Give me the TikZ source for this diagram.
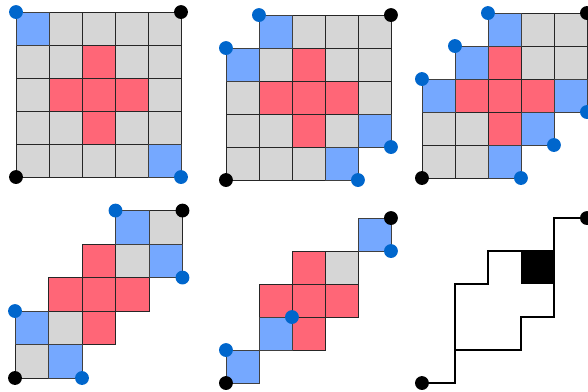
\documentclass[tikz,border=0pt]{standalone}
\usepackage{xcolor}
\definecolor{cellgray}{HTML}{D6D6D6}
\definecolor{cellred}{HTML}{FF6677}
\definecolor{cellblue}{HTML}{75A8FF}
\definecolor{dotblue}{HTML}{0066CC}
\tikzset{
  graycell/.style={fill=cellgray, draw=black!85, line width=0.6pt},
  redcell/.style={fill=cellred, draw=black!85, line width=0.6pt},
  bluecell/.style={fill=cellblue, draw=black!75, line width=0.6pt},
  bluedot/.style={circle, fill=dotblue, minimum size=4.2mm, inner sep=0pt},
  blackdot/.style={circle, fill=black, minimum size=4.2mm, inner sep=0pt},
  outline/.style={draw=black, line width=1.1pt}
}

\begin{document}
\begin{tikzpicture}
\useasboundingbox (0,0) rectangle (17.82,11.85);

% full grid
\begin{scope}[shift={(0.485,6.485)}]
\foreach \c in {0,...,4} \foreach \r in {0,...,4} \draw[graycell] (\c,\r) rectangle ++(1,1);
\foreach \c/\r in {2/3,1/2,2/2,3/2,2/1} \draw[redcell] (\c,\r) rectangle ++(1,1);
\foreach \c/\r in {0/4,4/0} \draw[bluecell] (\c,\r) rectangle ++(1,1);
\node[bluedot] (a1) at (0,5) {};
\node[blackdot] (a2) at (5,5) {};
\node[blackdot] (a3) at (0,0) {};
\node[bluedot] (a4) at (5,0) {};
\end{scope}

% corners removed
\begin{scope}[shift={(6.848,6.394)}]
\foreach \c/\r in {2/4,3/4,4/4,1/3,3/3,4/3,0/2,4/2,0/1,1/1,3/1,0/0,1/0,2/0}
  \draw[graycell] (\c,\r) rectangle ++(1,1);
\foreach \c/\r in {2/3,1/2,2/2,3/2,2/1} \draw[redcell] (\c,\r) rectangle ++(1,1);
\foreach \c/\r in {1/4,0/3,4/1,3/0} \draw[bluecell] (\c,\r) rectangle ++(1,1);
\node[bluedot] (b1) at (1,5) {};
\node[bluedot] (b2) at (0,4) {};
\node[blackdot] (b3) at (5,5) {};
\node[blackdot] (b4) at (0,0) {};
\node[bluedot] (b5) at (5,1) {};
\node[bluedot] (b6) at (4,0) {};
\end{scope}

% staircase
\begin{scope}[shift={(12.788,6.455)}]
\foreach \c/\r in {3/4,4/4,3/3,4/3,0/1,1/1,0/0,1/0}
  \draw[graycell] (\c,\r) rectangle ++(1,1);
\foreach \c/\r in {2/3,1/2,2/2,3/2,2/1} \draw[redcell] (\c,\r) rectangle ++(1,1);
\foreach \c/\r in {2/4,1/3,0/2,4/2,3/1,2/0} \draw[bluecell] (\c,\r) rectangle ++(1,1);
\node[bluedot] (c1) at (2,5) {};
\node[bluedot] (c2) at (1,4) {};
\node[bluedot] (c3) at (0,3) {};
\node[blackdot] (c4) at (5,5) {};
\node[bluedot] (c5) at (5,2) {};
\node[bluedot] (c6) at (4,1) {};
\node[bluedot] (c7) at (3,0) {};
\node[blackdot] (c8) at (0,0) {};
\end{scope}

% diagonal band
\begin{scope}[shift={(0.455,0.394)}, x=1.015cm, y=1.015cm]
\foreach \c/\r in {4/4,3/3,1/1,0/0} \draw[graycell] (\c,\r) rectangle ++(1,1);
\foreach \c/\r in {2/3,1/2,2/2,3/2,2/1} \draw[redcell] (\c,\r) rectangle ++(1,1);
\foreach \c/\r in {3/4,4/3,0/1,1/0} \draw[bluecell] (\c,\r) rectangle ++(1,1);
\node[bluedot] (d1) at (3,5) {};
\node[blackdot] (d2) at (5,5) {};
\node[bluedot] (d3) at (5,3) {};
\node[bluedot] (d4) at (0,2) {};
\node[blackdot] (d5) at (0,0) {};
\node[bluedot] (d6) at (2,0) {};
\end{scope}

% thinner band
\begin{scope}[shift={(6.848,0.242)}]
\draw[graycell] (3,3) rectangle ++(1,1);
\foreach \c/\r in {2/3,1/2,2/2,3/2,2/1} \draw[redcell] (\c,\r) rectangle ++(1,1);
\foreach \c/\r in {4/4,1/1,0/0} \draw[bluecell] (\c,\r) rectangle ++(1,1);
\node[blackdot] (e1) at (5,5) {};
\node[bluedot] (e2) at (5,4) {};
\node[bluedot] (e3) at (2,2) {};
\node[bluedot] (e4) at (0,1) {};
\node[blackdot] (e5) at (0,0) {};
\end{scope}

% outline only
\begin{scope}[shift={(12.788,0.242)}]
\fill[black] (3,3) rectangle (4,4);
\node[blackdot] (f1) at (0,0) {};
\node[blackdot] (f2) at (5,5) {};
\draw[outline] (f1.center) -- (1,0) -- (1,3) -- (2,3) -- (2,4) -- (4,4) -- (4,5) -- (f2.center);
\draw[outline] (4,4) -- (4,2) -- (3,2) -- (3,1) -- (1,1);
\end{scope}
\end{tikzpicture}
\end{document}
